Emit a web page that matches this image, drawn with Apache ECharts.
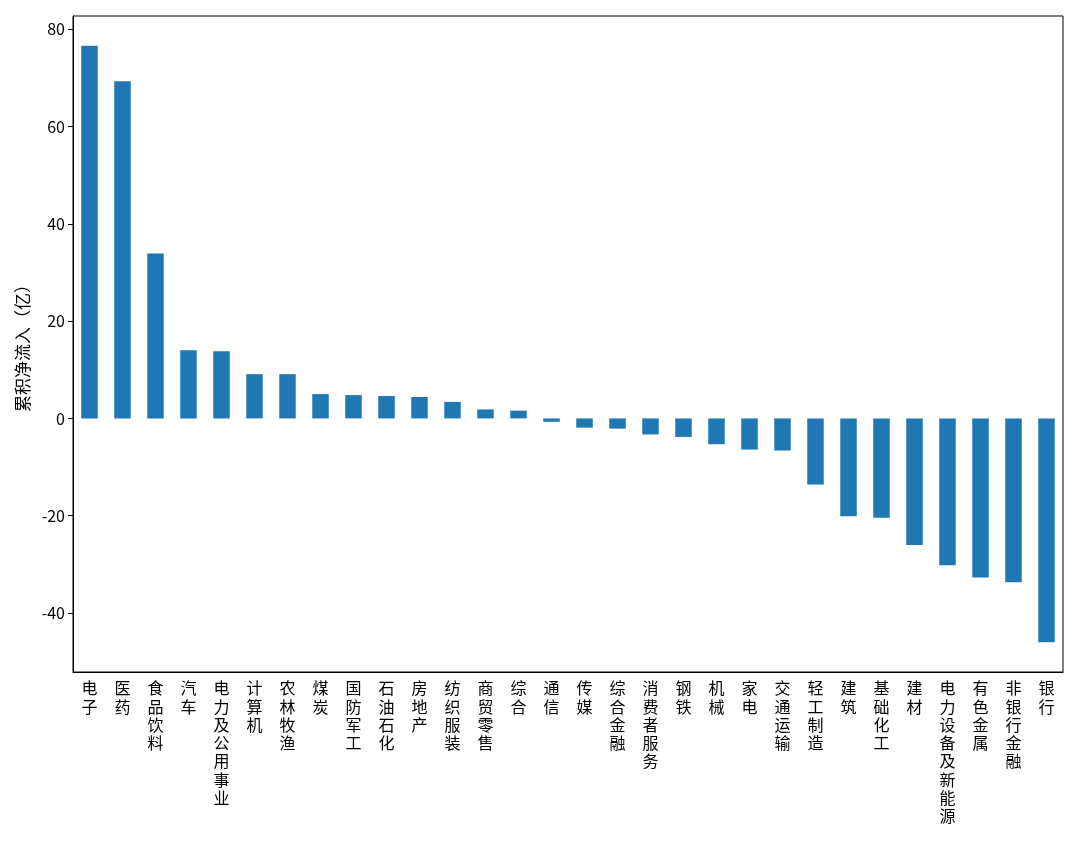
<!DOCTYPE html>
<html>
<head>
<meta charset="utf-8">
<script src="https://cdn.jsdelivr.net/npm/echarts@6/dist/echarts.min.js"></script>
<style>
html,body{margin:0;padding:0;background:#fff;}
#chart{width:1080px;height:845px;}
</style>
</head>
<body>
<div id="chart"></div>
<script>
const categories = ['电子','医药','食品饮料','汽车','电力及公用事业','计算机','农林牧渔','煤炭','国防军工','石油石化','房地产','纺织服装','商贸零售','综合','通信','传媒','综合金融','消费者服务','钢铁','机械','家电','交通运输','轻工制造','建筑','基础化工','建材','电力设备及新能源','有色金属','非银行金融','银行'];
const values = [76.6,69.3,33.9,14.0,13.8,9.1,9.1,5.0,4.8,4.6,4.4,3.4,1.85,1.6,-0.7,-1.9,-2.1,-3.3,-3.8,-5.3,-6.4,-6.6,-13.6,-20.1,-20.4,-26.0,-30.2,-32.7,-33.7,-46.0];
const yTicks = [-40,-20,0,20,40,60,80];
const yLabel = '累积净流入（亿）';

const FONT = '"Noto Sans CJK SC", "DejaVu Sans", sans-serif';
const chart = echarts.init(document.getElementById('chart'));
chart.setOption({
  animation: false,
  backgroundColor: '#fff',
  grid: { left: 73, right: 17, top: 16, bottom: 173, show: true, borderColor: '#000', borderWidth: 1, containLabel: false },
  xAxis: {
    type: 'category',
    data: categories,
    axisLine: { onZero: false, lineStyle: { color: '#000', width: 1 } },
    axisTick: { alignWithLabel: true, length: 5, lineStyle: { color: '#000' } },
    axisLabel: {
      interval: 0, margin: 7, color: '#000', fontFamily: FONT, fontSize: 16, lineHeight: 18.3,
      verticalAlign: 'top',
      formatter: v => v.split('').join('\n')
    }
  },
  yAxis: {
    type: 'value',
    min: -52.13, max: 82.73,
    name: yLabel,
    nameLocation: 'middle',
    nameGap: 40,
    nameTextStyle: { color: '#000', fontFamily: FONT, fontSize: 17 },
    splitLine: { show: false },
    axisLine: { show: true, lineStyle: { color: '#000', width: 1 } },
    axisTick: { show: true, length: 5, lineStyle: { color: '#000' }, customValues: yTicks },
    axisLabel: { color: '#000', fontFamily: FONT, fontSize: 16, margin: 8, customValues: yTicks }
  },
  series: [{
    type: 'bar',
    data: values,
    barWidth: '50%',
    itemStyle: { color: '#1f77b4' }
  }]
});
</script>
</body>
</html>
